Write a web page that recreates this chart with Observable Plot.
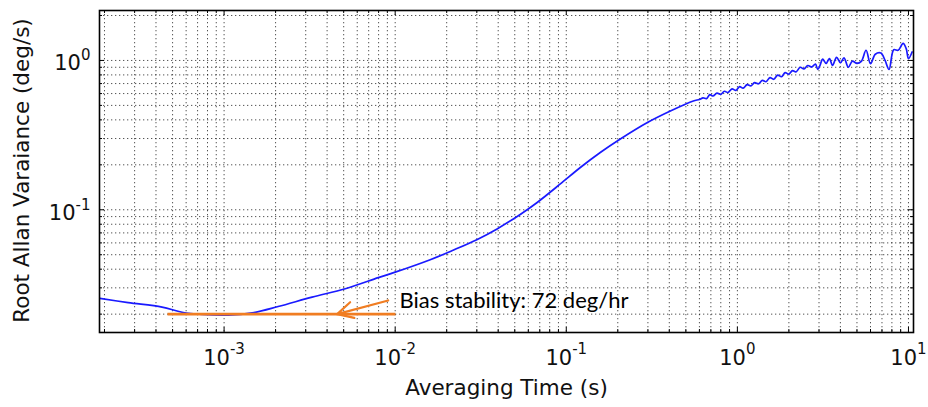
<!DOCTYPE html>
<html><head><meta charset="utf-8">
<script src="https://cdn.jsdelivr.net/npm/d3@7"></script>
<script src="https://cdn.jsdelivr.net/npm/@observablehq/plot@0.6"></script>
<style>html,body{margin:0;padding:0;background:#fff} svg{display:block}</style>
</head><body><div id="chart"></div>
<script>
// ---- data ----
const tau = [1.88e-4, 2.75e-4, 4.34e-4, 5.68e-4, 7.44e-4, 1.055e-3, 1.46e-3, 2.07e-3, 3.27e-3, 5.11e-3, 7.97e-3,
  0.01, 0.01602, 0.0218, 0.0302, 0.0394, 0.0538, 0.0676, 0.0923, 0.1208, 0.158, 0.207, 0.298, 0.406, 0.553,
  0.60, 0.63, 0.66, 0.69, 0.72, 0.76, 0.80, 0.84, 0.88, 0.93, 0.98, 1.03, 1.08, 1.14, 1.20, 1.26, 1.33, 1.40,
  1.47, 1.55, 1.63, 1.72, 1.81, 1.90, 2.00, 2.10, 2.20, 2.33, 2.45, 2.58, 2.72, 2.86, 2.95, 3.05, 3.15, 3.30,
  3.45, 3.60, 3.80, 4.00, 4.20, 4.45, 4.70, 5.00, 5.30, 5.65, 6.00, 6.40, 6.90, 7.30, 7.70, 8.20, 8.70, 9.30,
  9.70, 10.0, 10.5];
const adev = [0.0255, 0.0239, 0.0223, 0.0206, 0.0199, 0.0197, 0.0204, 0.0225, 0.0260, 0.0296, 0.0351,
  0.0382, 0.0463, 0.0536, 0.0633, 0.0744, 0.0930, 0.1119, 0.1489, 0.1920, 0.2420, 0.2980, 0.3843, 0.4588, 0.5355,
  0.548, 0.562, 0.555, 0.590, 0.578, 0.604, 0.592, 0.622, 0.610, 0.645, 0.630, 0.668, 0.652, 0.688, 0.675, 0.710, 0.698, 0.735,
  0.720, 0.768, 0.748, 0.798, 0.778, 0.828, 0.810, 0.855, 0.838, 0.900, 0.878, 0.925, 0.905, 0.945, 0.870, 0.935, 1.02, 0.955,
  1.03, 0.925, 1.05, 0.965, 1.04, 0.900, 0.99, 0.955, 0.985, 1.17, 0.950, 1.10, 1.12, 1.00, 0.87, 1.18, 1.17, 1.30,
  1.20, 1.03, 1.14];
const xTickExponents = [-3, -2, -1, 0, 1];
const yTickExponents = [-1, 0];
const xDomain = [1.87e-4, 10.7];
const yDomain = [0.01507, 2.16];
const biasStability = 0.02;            // deg/s  (= 72 deg/hr)
const biasRange = [4.7e-4, 0.0101];
const annotationText = "Bias stability: 72 deg/hr";
const annotationAt = {x: 0.0106, y: 0.0246};
const arrowFrom = {x: 0.0091, y: 0.0247};
const arrowTo = {x: 0.00458, y: 0.0200};
const xLabel = "Averaging Time (s)";
const yLabel = "Root Allan Varaiance (deg/s)";

// ---- build ----
const data = tau.map((t, i) => ({tau: t, adev: adev[i]}));
const W = 928, H = 407, mL = 99, mR = 15, mT = 10, mB = 75;
const innerW = W - mL - mR, innerH = H - mT - mB;
const isMajor = v => Math.abs(Math.log10(v) - Math.round(Math.log10(v))) < 1e-9;
const xAll = d3.scaleLog().domain(xDomain).ticks();
const yAll = d3.scaleLog().domain(yDomain).ticks();
const xMajor = xTickExponents.map(e => Math.pow(10, e));
const yMajor = yTickExponents.map(e => Math.pow(10, e));
const xMinor = xAll.filter(v => !isMajor(v));
const yMinor = yAll.filter(v => !isMajor(v));
const xTickLabels = xTickExponents.map(e => ({v: Math.pow(10, e), label: "10^" + e, axis: "x"}));
const yTickLabels = yTickExponents.map(e => ({v: Math.pow(10, e), label: "10^" + e, axis: "y"}));

const grid = {stroke: "#000", strokeOpacity: 0.9, strokeWidth: 0.75, strokeDasharray: "1.3,2.7"};
const tk = {stroke: "#000", strokeWidth: 1};
const ink = "#111";

const chart = Plot.plot({
  width: W, height: H,
  marginLeft: mL, marginRight: mR, marginTop: mT, marginBottom: mB,
  style: {fontFamily: "DejaVu Sans", background: "#fff", overflow: "visible"},
  x: {type: "log", domain: xDomain, axis: null},
  y: {type: "log", domain: yDomain, axis: null},
  marks: [
    Plot.ruleX(xAll, {x: d => d, ...grid}),
    Plot.ruleY(yAll, {y: d => d, ...grid}),
    // inward ticks on all four sides
    Plot.tickX(xMajor, {x: d => d, insetTop: innerH - 5, ...tk}),
    Plot.tickX(xMajor, {x: d => d, insetBottom: innerH - 5, ...tk}),
    Plot.tickX(xMinor, {x: d => d, insetTop: innerH - 3, ...tk}),
    Plot.tickX(xMinor, {x: d => d, insetBottom: innerH - 3, ...tk}),
    Plot.tickY(yMajor, {y: d => d, insetRight: innerW - 5, ...tk}),
    Plot.tickY(yMajor, {y: d => d, insetLeft: innerW - 5, ...tk}),
    Plot.tickY(yMinor, {y: d => d, insetRight: innerW - 3, ...tk}),
    Plot.tickY(yMinor, {y: d => d, insetLeft: innerW - 3, ...tk}),
    Plot.line(data, {x: "tau", y: "adev", stroke: "#1a1aff", strokeWidth: 1.7, curve: "catmull-rom", clip: true}),
    Plot.ruleY([{y: biasStability, x1: biasRange[0], x2: biasRange[1]}], {y: "y", x1: "x1", x2: "x2", stroke: "#F07D22", strokeWidth: 2.6}),
    Plot.arrow([{x1: arrowFrom.x, y1: arrowFrom.y, x2: arrowTo.x, y2: arrowTo.y}], {x1: "x1", y1: "y1", x2: "x2", y2: "y2", stroke: "#F07D22", strokeWidth: 2.2, headLength: 12, headAngle: 55}),
    Plot.text([{x: annotationAt.x, y: annotationAt.y, t: annotationText}], {x: "x", y: "y", text: "t", textAnchor: "start", lineAnchor: "middle", fontFamily: "Lato", fontSize: 22, fill: "#000"}),
    Plot.frame({stroke: "#000", strokeWidth: 1.6}),
    // tick labels
    Plot.text(xTickLabels, {x: "v", text: "label", frameAnchor: "bottom", textAnchor: "middle", lineAnchor: "top", dy: 18, fontSize: 21, fill: ink}),
    Plot.text(yTickLabels, {y: "v", text: "label", frameAnchor: "left", textAnchor: "end", lineAnchor: "middle", dx: -9, dy: 3.3, fontSize: 21, fill: ink}),
    // axis titles
    Plot.text([xLabel], {frameAnchor: "bottom", textAnchor: "middle", lineAnchor: "middle", dy: 56, fontSize: 21.5, fill: ink}),
    Plot.text([yLabel], {frameAnchor: "left", textAnchor: "middle", rotate: -90, lineAnchor: "middle", dx: -77, dy: -1, fontSize: 21.5, fill: ink})
  ]
});

// Turn "10^e" labels into 10 with a superscript exponent
d3.select(chart).selectAll("text").each(function () {
  const m = /^10\^(-?\d+)$/.exec(this.textContent);
  if (!m) return;
  const sel = d3.select(this);
  const anchorEnd = (this.getAttribute("text-anchor") || (this.parentNode && this.parentNode.getAttribute("text-anchor"))) === "end";
  sel.text("10");
  sel.append("tspan").attr("dy", anchorEnd ? -10 : -11).attr("font-size", 15).text(m[1]);
});

document.getElementById("chart").append(chart);
</script>
</body></html>
